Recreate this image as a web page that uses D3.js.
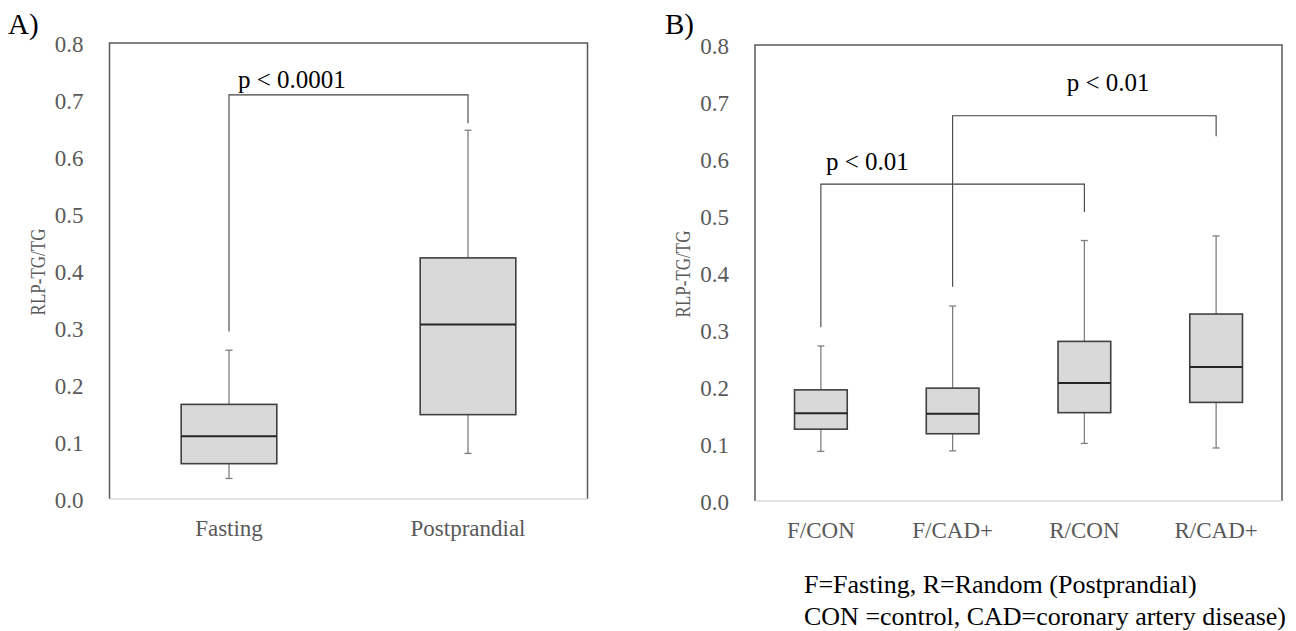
<!DOCTYPE html>
<html lang="en">
<head>
    <meta charset="UTF-8">
    <title>RLP-TG/TG box plots</title>
    <style>
        body {
            margin: 0;
            background-color: #ffffff;
        }

        svg {
            display: block;
        }
    </style>
</head>
<body>
    <svg id="chart" width="1296" height="631"></svg>

    <script src="https://cdn.jsdelivr.net/npm/d3@7"></script>
    <script>
        // Panel A: fasting vs postprandial
        const aGroups = ["Fasting", "Postprandial"];
        const aLow = [0.036, 0.080];
        const aQ1 = [0.062, 0.148];
        const aMedian = [0.110, 0.306];
        const aQ3 = [0.166, 0.423];
        const aHigh = [0.261, 0.647];
        const aBrackets = [
            { from: 0, to: 1, top: 0.709, leftEnd: 0.294, rightEnd: 0.659, label: "p < 0.0001" }
        ];

        // Panel B: by group
        const bGroups = ["F/CON", "F/CAD+", "R/CON", "R/CAD+"];
        const bLow = [0.087, 0.088, 0.101, 0.093];
        const bQ1 = [0.126, 0.118, 0.155, 0.173];
        const bMedian = [0.154, 0.153, 0.207, 0.235];
        const bQ3 = [0.195, 0.198, 0.280, 0.328];
        const bHigh = [0.272, 0.342, 0.457, 0.465];
        const bBrackets = [
            { from: 0, to: 2, top: 0.556, leftEnd: 0.305, rightEnd: 0.507, label: "p < 0.01" },
            { from: 1, to: 3, top: 0.676, leftEnd: 0.376, rightEnd: 0.640, label: "p < 0.01" }
        ];

        const yTicks = [0, 0.1, 0.2, 0.3, 0.4, 0.5, 0.6, 0.7, 0.8];
        const yTitle = "RLP-TG/TG";
        const noteLines = [
            "F=Fasting, R=Random (Postprandial)",
            "CON =control, CAD=coronary artery disease)"
        ];

        const svg = d3.select("#chart");
        const serif = "'Liberation Serif', 'Times New Roman', serif";

        function addText(g, x, y, str, opt) {
            return g.append("text")
                .attr("transform", `translate(${x},${y}) rotate(${opt.rotate || 0}) scale(${opt.sx || 1},1)`)
                .attr("text-anchor", opt.anchor || "start")
                .attr("font-family", serif)
                .attr("font-size", opt.size + "px")
                .attr("fill", opt.fill || "#000")
                .text(str);
        }

        function drawPanel(cfg) {
            const g = svg.append("g");
            const y = d3.scaleLinear().domain([0, 0.8]).range([cfg.bottom, cfg.top]);
            const x = d3.scaleBand().domain(cfg.groups).range([cfg.left, cfg.right]);
            const idx = d3.range(cfg.groups.length);
            const bw = x.bandwidth() * 0.4;
            const cx = i => x(cfg.groups[i]) + x.bandwidth() / 2;

            // frame: dark on three sides, pale baseline
            g.append("path")
                .attr("d", `M${cfg.left},${cfg.bottom}V${cfg.top}H${cfg.right}V${cfg.bottom}`)
                .attr("fill", "none")
                .attr("stroke", "#595959")
                .attr("stroke-width", 1.5);
            g.append("line")
                .attr("x1", cfg.left).attr("x2", cfg.right)
                .attr("y1", cfg.bottom).attr("y2", cfg.bottom)
                .attr("stroke", "#d9d9d9")
                .attr("stroke-width", 1.5);

            // y tick labels
            yTicks.forEach(v => {
                addText(g, cfg.left - 26, y(v) + 9, d3.format(".1f")(v),
                    { size: 23, anchor: "end", fill: "#595959" });
            });

            // y title
            addText(g, cfg.titleX, (y(0.3) + y(0.5)) / 2 + 1, yTitle,
                { size: 21, anchor: "middle", fill: "#595959", rotate: -90, sx: 0.81 });

            // category labels
            cfg.groups.forEach((c, i) => {
                addText(g, cx(i), cfg.bottom + 37, c,
                    { size: 23, anchor: "middle", fill: "#595959" });
            });

            // whiskers
            const whisk = g.append("g").attr("stroke", "#7f7f7f").attr("stroke-width", 1.3);
            idx.forEach(i => {
                whisk.append("line").attr("x1", cx(i)).attr("x2", cx(i))
                    .attr("y1", y(cfg.high[i])).attr("y2", y(cfg.q3[i]));
                whisk.append("line").attr("x1", cx(i)).attr("x2", cx(i))
                    .attr("y1", y(cfg.q1[i])).attr("y2", y(cfg.low[i]));
                [cfg.high[i], cfg.low[i]].forEach(v => {
                    whisk.append("line").attr("x1", cx(i) - 3.5).attr("x2", cx(i) + 3.5)
                        .attr("y1", y(v)).attr("y2", y(v));
                });
            });

            // boxes
            g.append("g").selectAll("rect")
                .data(idx)
                .join("rect")
                .attr("x", i => cx(i) - bw / 2)
                .attr("width", bw)
                .attr("y", i => y(cfg.q3[i]))
                .attr("height", i => y(cfg.q1[i]) - y(cfg.q3[i]))
                .attr("fill", "#d9d9d9")
                .attr("stroke", "#404040")
                .attr("stroke-width", 1.6);

            g.append("g").selectAll("line")
                .data(idx)
                .join("line")
                .attr("x1", i => cx(i) - bw / 2)
                .attr("x2", i => cx(i) + bw / 2)
                .attr("y1", i => y(cfg.median[i]))
                .attr("y2", i => y(cfg.median[i]))
                .attr("stroke", "#262626")
                .attr("stroke-width", 2);

            // significance brackets
            cfg.brackets.forEach((b, k) => {
                const x1 = cx(b.from), x2 = cx(b.to);
                g.append("path")
                    .attr("d", `M${x1},${y(b.leftEnd)}V${y(b.top)}H${x2}V${y(b.rightEnd)}`)
                    .attr("fill", "none")
                    .attr("stroke", "#404040")
                    .attr("stroke-width", 1.1);
                const off = cfg.labelOffsets[k];
                addText(g, x1 + off[0], y(b.top) - off[1], b.label, { size: 25 });
            });

            addText(g, cfg.tagX, 34, cfg.tag, { size: 29 });
            return g;
        }

        drawPanel({
            tag: "A)", tagX: 8,
            groups: aGroups, low: aLow, q1: aQ1, median: aMedian, q3: aQ3, high: aHigh,
            brackets: aBrackets, labelOffsets: [[9, 7]],
            left: 109.5, right: 587.5, top: 43, bottom: 499,
            titleX: 45
        });

        const gB = drawPanel({
            tag: "B)", tagX: 665,
            groups: bGroups, low: bLow, q1: bQ1, median: bMedian, q3: bQ3, high: bHigh,
            brackets: bBrackets, labelOffsets: [[5, 14], [114, 25]],
            left: 755, right: 1282, top: 45, bottom: 501,
            titleX: 690
        });

        noteLines.forEach((s, i) => {
            addText(gB, 804, 593 + i * 32, s, { size: 26 });
        });
    </script>
</body>
</html>
